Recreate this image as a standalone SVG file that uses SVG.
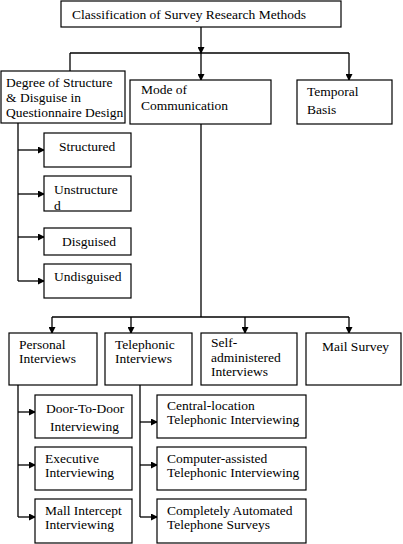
<svg xmlns="http://www.w3.org/2000/svg" width="403" height="544" viewBox="0 0 403 544">
<defs>
<marker id="ah" markerUnits="userSpaceOnUse" markerWidth="7" markerHeight="7" refX="6" refY="3.5" orient="auto">
<path d="M0,0 L7,3.5 L0,7 z" fill="#000"/>
</marker>
<style>
rect{fill:#fff;stroke:#000;stroke-width:1.2}
text{font-family:"Liberation Serif","Times New Roman",serif;font-size:13.5px;fill:#000}
.c line,.c polyline{stroke:#000;stroke-width:1.3;fill:none}
.a{marker-end:url(#ah)}
</style>
</defs>
<rect x="0" y="0" width="403" height="544" style="fill:#fff;stroke:none"/>
<g class="c" id="connectors">
<line class="a" x1="201" y1="27" x2="201" y2="53"/>
<line x1="70" y1="53" x2="349" y2="53"/>
<line x1="70" y1="53" x2="70" y2="71"/>
<line class="a" x1="201" y1="53" x2="201" y2="80"/>
<line class="a" x1="349" y1="53" x2="349" y2="80"/>
<line x1="18" y1="123" x2="18" y2="281"/>
<line class="a" x1="18" y1="150" x2="44" y2="150"/>
<line class="a" x1="18" y1="194" x2="44" y2="194"/>
<line class="a" x1="18" y1="237" x2="44" y2="237"/>
<line class="a" x1="18" y1="281" x2="44" y2="281"/>
<line x1="201" y1="124" x2="201" y2="317"/>
<line x1="52" y1="317" x2="349" y2="317"/>
<line class="a" x1="52" y1="317" x2="52" y2="333"/>
<line class="a" x1="131" y1="317" x2="131" y2="333"/>
<line class="a" x1="245" y1="317" x2="245" y2="333"/>
<line class="a" x1="349" y1="317" x2="349" y2="333"/>
<line x1="18" y1="385" x2="18" y2="517"/>
<line class="a" x1="18" y1="412" x2="35" y2="412"/>
<line class="a" x1="18" y1="465" x2="35" y2="465"/>
<line class="a" x1="18" y1="517" x2="35" y2="517"/>
<line x1="140" y1="385" x2="140" y2="517"/>
<line class="a" x1="140" y1="422" x2="157" y2="422"/>
<line class="a" x1="140" y1="465" x2="157" y2="465"/>
<line class="a" x1="140" y1="517" x2="157" y2="517"/>
</g>
<g id="root"><rect x="61" y="1" width="280" height="26"/><text x="72" y="19">Classification of Survey Research Methods</text></g>
<g id="degree"><rect x="1" y="71" width="124" height="52"/><text x="6" y="87">Degree of Structure</text><text x="6" y="102">&amp; Disguise in</text><text x="6" y="117">Questionnaire Design</text></g>
<g id="mode"><rect x="130" y="80" width="141" height="44"/><text x="141" y="94">Mode of</text><text x="141" y="110">Communication</text></g>
<g id="temporal"><rect x="297" y="80" width="95" height="44"/><text x="307" y="96">Temporal</text><text x="307" y="114">Basis</text></g>
<g id="structured"><rect x="44" y="133" width="87" height="34"/><text x="59" y="151">Structured</text></g>
<g id="unstructured"><rect x="44" y="176" width="87" height="35"/><text x="54" y="194">Unstructure</text><text x="54" y="210">d</text></g>
<g id="disguised"><rect x="44" y="228" width="87" height="27"/><text x="62" y="246">Disguised</text></g>
<g id="undisguised"><rect x="44" y="264" width="87" height="34"/><text x="54" y="281">Undisguised</text></g>
<g id="personal"><rect x="9" y="333" width="88" height="52"/><text x="19" y="349">Personal</text><text x="19" y="363">Interviews</text></g>
<g id="telephonic"><rect x="105" y="333" width="87" height="52"/><text x="115" y="349">Telephonic</text><text x="115" y="363">Interviews</text></g>
<g id="self"><rect x="201" y="333" width="96" height="52"/><text x="211" y="347">Self-</text><text x="211" y="362">administered</text><text x="211" y="376">Interviews</text></g>
<g id="mail"><rect x="306" y="333" width="95" height="52"/><text x="322" y="351">Mail Survey</text></g>
<g id="door"><rect x="35" y="395" width="97" height="43"/><text x="46" y="413">Door-To-Door</text><text x="50" y="431">Interviewing</text></g>
<g id="executive"><rect x="35" y="447" width="97" height="43"/><text x="45" y="463">Executive</text><text x="45" y="477">Interviewing</text></g>
<g id="mall"><rect x="35" y="499" width="97" height="44"/><text x="45" y="515">Mall Intercept</text><text x="45" y="529">Interviewing</text></g>
<g id="central"><rect x="157" y="395" width="149" height="43"/><text x="167" y="410">Central-location</text><text x="167" y="424">Telephonic Interviewing</text></g>
<g id="computer"><rect x="157" y="447" width="149" height="43"/><text x="167" y="463">Computer-assisted</text><text x="167" y="477">Telephonic Interviewing</text></g>
<g id="completely"><rect x="157" y="499" width="149" height="44"/><text x="167" y="515">Completely Automated</text><text x="167" y="529">Telephone Surveys</text></g>
</svg>
